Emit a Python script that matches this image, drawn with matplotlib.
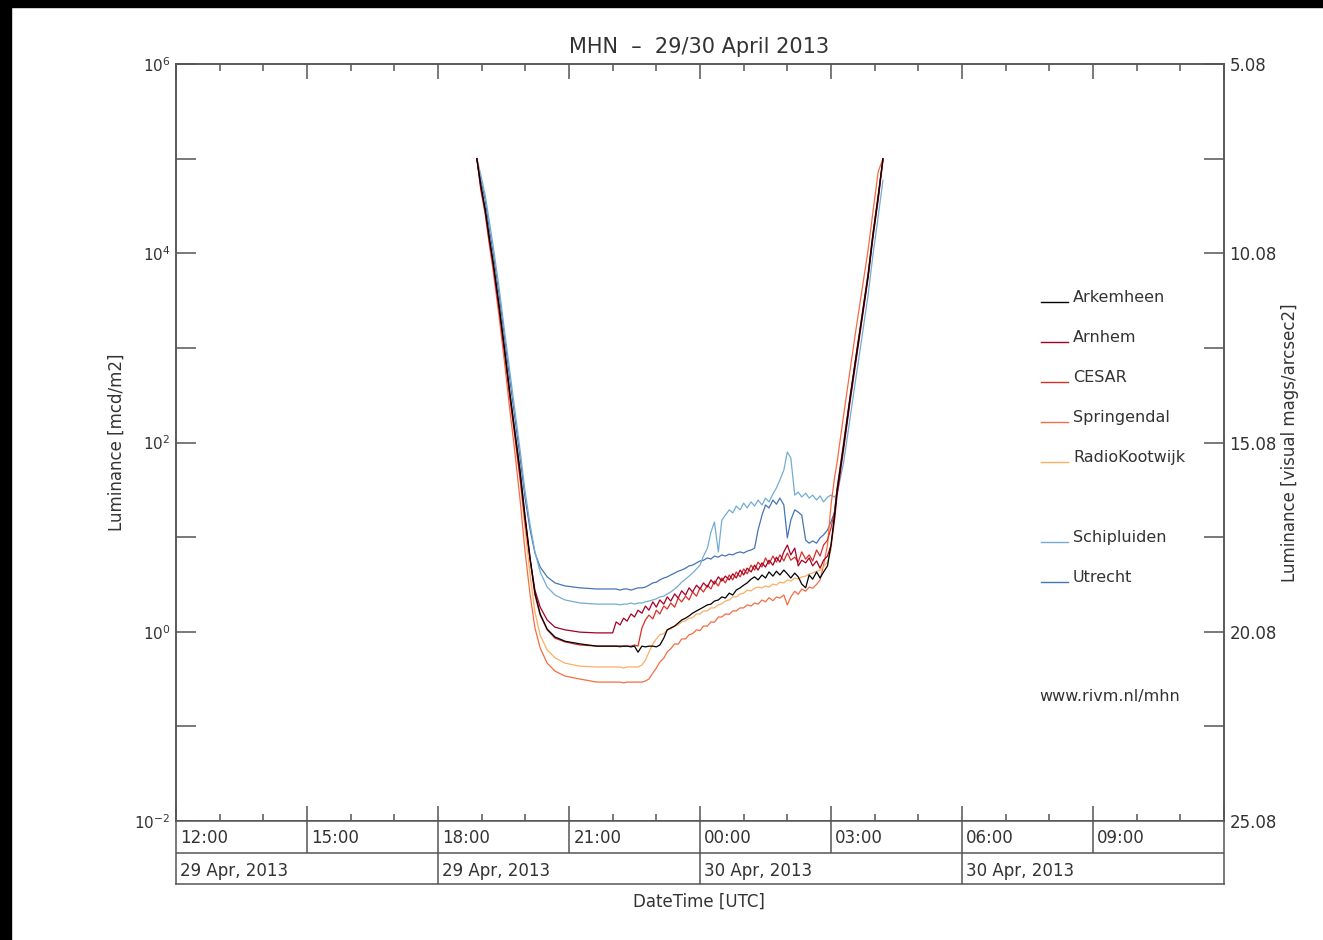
import matplotlib.pyplot as plt
from matplotlib.patches import Rectangle
from matplotlib.ticker import MultipleLocator, NullLocator

# --- data ---------------------------------------------------------------
# time in hours UTC counted from 29 Apr 00:00 (24.00 = 00:00 on 30 Apr)
hours = [18.89, 18.98, 19.08, 19.17, 19.26, 19.40, 19.53, 19.64, 19.76, 19.88,
         19.99, 20.11, 20.22, 20.34, 20.50, 20.68, 20.91, 21.25, 21.64,
         22.00, 22.08, 22.17, 22.25, 22.33, 22.42, 22.50, 22.58, 22.67, 22.75, 22.83, 22.92,
         23.00, 23.08, 23.17, 23.25, 23.33, 23.42, 23.50, 23.58, 23.67, 23.75, 23.83, 23.92,
         24.00, 24.08, 24.17, 24.25, 24.33, 24.42, 24.50, 24.58, 24.67, 24.75, 24.83, 24.92,
         25.00, 25.08, 25.17, 25.25, 25.33, 25.42, 25.50, 25.58, 25.67, 25.75, 25.83, 25.92,
         26.00, 26.08, 26.17, 26.25, 26.33, 26.42, 26.50, 26.58, 26.67, 26.75, 26.83, 26.92,
         27.00,
         27.08, 27.14, 27.29, 27.43, 27.57, 27.71, 27.85, 27.96, 28.08, 28.19]

# sky brightness in visual mags/arcsec2 (right-hand axis)
utrecht = [7.58, 8.15, 8.67, 9.41, 10.05, 11.18, 12.37, 13.38, 14.43, 15.49,
           16.52, 17.39, 18.00, 18.37, 18.63, 18.79, 18.87, 18.92, 18.95,
           18.95, 18.95, 18.98, 18.95, 18.95, 18.98, 18.95, 18.92, 18.92,
           18.90, 18.85, 18.79, 18.77, 18.71, 18.66, 18.63, 18.58, 18.53, 18.48, 18.45, 18.40,
           18.34, 18.32, 18.26, 18.21,
           18.19, 18.13, 18.16, 18.08, 18.11, 18.05, 18.08, 18.03, 18.05, 18.00, 17.97, 18.00,
           17.95, 17.92, 17.87,
           17.39, 17.00, 16.73, 16.81, 16.60, 16.71, 16.55, 16.73, 17.60, 17.13, 16.86, 16.92,
           17.00, 17.66, 17.74, 17.68, 17.74, 17.60, 17.52, 17.39, 17.18,
           16.92, 16.34, 15.15, 13.96, 12.85, 11.76, 10.66, 9.60, 8.59, 7.58]
schipluiden = [7.58, 8.01, 8.54, 9.20, 9.86, 11.00, 12.19, 13.16, 14.22, 15.28,
               16.34, 17.26, 17.97, 18.50, 18.90, 19.11, 19.24, 19.32, 19.35,
               19.35, 19.35, 19.37, 19.35, 19.35, 19.32, 19.35, 19.32, 19.32,
               19.29, 19.27, 19.24, 19.21, 19.16, 19.14, 19.08, 19.03, 18.95, 18.87, 18.77, 18.69,
               18.61, 18.53, 18.42, 18.32,
               18.08, 17.87, 17.45, 17.18, 17.97, 17.13, 17.00, 16.86, 16.94, 16.76, 16.86, 16.68,
               16.81, 16.65, 16.76,
               16.60, 16.73, 16.55, 16.65, 16.44, 16.28, 16.07, 15.81, 15.33, 15.49, 16.47, 16.39,
               16.52, 16.42, 16.55, 16.47, 16.60, 16.49, 16.65, 16.52, 16.47,
               16.52, 16.44, 15.60, 14.49, 13.38, 12.29, 11.18, 10.13, 9.12, 8.15]
arnhem = [7.58, 8.36, 8.99, 9.73, 10.39, 11.58, 12.77, 13.83, 14.91, 16.02,
          17.13, 18.19, 18.98, 19.43, 19.77, 19.96, 20.03, 20.09, 20.11,
          20.11, 19.82, 19.90, 19.72, 19.80, 19.61, 19.69, 19.51, 19.59,
          19.40, 19.51, 19.29, 19.43, 19.24, 19.35, 19.16, 19.27, 19.08, 19.19, 19.00, 19.11,
          18.92, 19.03, 18.85, 18.95,
          18.79, 18.90, 18.71, 18.82, 18.63, 18.74, 18.61, 18.71, 18.55, 18.66, 18.45, 18.58,
          18.40, 18.50, 18.32,
          18.45, 18.26, 18.37, 18.19, 18.32, 18.11, 18.24, 17.97, 17.79, 18.05, 17.87, 18.34,
          18.19, 18.26, 18.13, 18.34, 18.21, 18.40, 18.19, 18.08, 17.79,
          17.13, 16.47, 15.25, 14.06, 12.95, 11.84, 10.73, 9.68, 8.67, 7.62]
cesar = [7.58, 8.30, 8.94, 9.65, 10.31, 11.50, 12.69, 13.75, 14.80, 15.86,
         17.00, 18.19, 19.11, 19.64, 20.03, 20.25, 20.35, 20.43, 20.46,
         20.46, 20.46, 20.48, 20.46, 20.46, 20.46, 20.43, 20.46, 19.98,
         19.77, 19.64, 19.74, 19.51, 19.61, 19.40, 19.48, 19.32, 19.43, 19.19, 19.29, 19.14,
         19.24, 19.03, 19.14, 18.92,
         19.03, 18.85, 18.95, 18.74, 18.87, 18.66, 18.79, 18.58, 18.71, 18.50, 18.63, 18.42,
         18.55, 18.32, 18.45,
         18.24, 18.37, 18.13, 18.29, 18.08, 18.24, 18.05, 18.21, 18.00, 18.19, 18.11, 18.24,
         17.97, 18.16, 18.05, 18.21, 17.92, 18.08, 17.79, 17.66, 17.34,
         16.92, 16.28, 15.07, 13.91, 12.80, 11.71, 10.60, 9.55, 8.54, 7.58]
arkemheen = [7.58, 8.28, 8.91, 9.63, 10.29, 11.47, 12.66, 13.72, 14.78, 15.83,
             17.00, 18.13, 19.06, 19.61, 20.01, 20.22, 20.33, 20.40, 20.46,
             20.46, 20.46, 20.46, 20.46, 20.46, 20.48, 20.46, 20.62, 20.46, 20.48, 20.46, 20.46,
             20.48, 20.43,
             20.25, 20.03, 19.98, 19.93, 19.85, 19.77, 19.72, 19.66, 19.59, 19.53, 19.48,
             19.43, 19.37, 19.35, 19.27, 19.24, 19.16, 19.19, 19.06, 19.11, 18.98, 18.92, 18.85,
             18.79, 18.69, 18.63,
             18.71, 18.58, 18.66, 18.50, 18.61, 18.48, 18.58, 18.45, 18.55, 18.66, 18.53, 18.63,
             18.82, 18.92, 18.58, 18.69, 18.50, 18.66, 18.50, 18.34, 17.79,
             17.00, 16.34, 15.15, 13.96, 12.85, 11.76, 10.66, 9.60, 8.59, 7.58]
radiokootwijk = [7.58, 8.30, 8.94, 9.65, 10.34, 11.53, 12.74, 13.83, 14.91, 16.07,
                 17.34, 18.58, 19.56, 20.17, 20.56, 20.77, 20.91, 20.99, 21.01,
                 21.01, 21.01, 21.01, 21.04, 21.01, 21.01, 21.01, 21.01, 20.96,
                 20.83, 20.62, 20.40, 20.27, 20.16, 20.13, 20.03, 20.01, 19.93, 19.90, 19.82, 19.79,
                 19.72, 19.71, 19.61, 19.61,
                 19.53, 19.53, 19.45, 19.45, 19.37, 19.34, 19.27, 19.24, 19.16, 19.16, 19.08, 19.06,
                 18.98, 19.00, 18.93,
                 18.90, 18.92, 18.87, 18.90, 18.82, 18.85, 18.77, 18.79, 18.71, 18.74, 18.66, 18.69,
                 18.63, 18.61, 18.55, 18.53, 18.48, 18.45, 18.37, 18.24, 17.92,
                 17.08, 16.39, 15.20, 14.01, 12.90, 11.82, 10.71, 9.65, 8.65, 7.62]
springendal = [7.58, 8.41, 9.04, 9.81, 10.52, 11.76, 13.03, 14.17, 15.33, 16.60,
               17.92, 19.11, 19.98, 20.51, 20.91, 21.12, 21.25, 21.33, 21.41,
               21.41, 21.41, 21.41, 21.43, 21.41, 21.41, 21.41, 21.41, 21.41, 21.38,
               21.33, 21.17, 21.04, 20.88, 20.78, 20.61, 20.53, 20.40, 20.41, 20.27, 20.27, 20.16,
               20.13, 20.03, 20.05,
               19.93, 19.93, 19.82, 19.83, 19.69, 19.69, 19.61, 19.62, 19.53, 19.53, 19.45, 19.45,
               19.37, 19.40, 19.32,
               19.35, 19.24, 19.29, 19.18, 19.26, 19.16, 19.19, 19.11, 19.37, 19.16, 19.01, 19.09,
               18.95, 19.01, 18.90, 18.93, 18.83, 18.71, 18.32, 17.79, 16.73,
               16.02, 15.60, 14.35, 13.22, 12.11, 11.05, 9.99, 8.99, 7.93, 7.58]

stations = ['Arkemheen', 'Arnhem', 'CESAR', 'Springendal', 'RadioKootwijk', 'Schipluiden', 'Utrecht']
series = [arkemheen, arnhem, cesar, springendal, radiokootwijk, schipluiden, utrecht]
colors = ['#000000', '#a50026', '#d73027', '#f46d43', '#fdae61', '#74add1', '#4575b4']
legend_rows = [0, 1, 2, 3, 4, 6, 7]   # blank row between the two groups

time_labels = ['12:00', '15:00', '18:00', '21:00', '00:00', '03:00', '06:00', '09:00']
time_pos = [12, 15, 18, 21, 24, 27, 30, 33]
date_labels = ['29 Apr, 2013', '29 Apr, 2013', '30 Apr, 2013', '30 Apr, 2013']
date_pos = [12, 18, 24, 30]

decades = [1e-2, 1e-1, 1e0, 1e1, 1e2, 1e3, 1e4, 1e5, 1e6]
left_labels = ['$10^{-2}$', '', '$10^{0}$', '', '$10^{2}$', '', '$10^{4}$', '', '$10^{6}$']
mag_ticks = [25.08, 22.58, 20.08, 17.58, 15.08, 12.58, 10.08, 7.58, 5.08]
right_labels = ['25.08', '', '20.08', '', '15.08', '', '10.08', '', '5.08']

TXT = '#333333'
EDGE = '#555555'
W, H = 1323, 940


def box(x0, y0, x1, y1):
    return [x0 / W, 1 - y1 / H, (x1 - x0) / W, (y1 - y0) / H]


def style_spines(a):
    for s in a.spines.values():
        s.set_color(EDGE)
        s.set_linewidth(1.1)


fig = plt.figure(figsize=(W / 100, H / 100), dpi=100)

# left axis: luminance (log)
ax = fig.add_axes(box(176, 64, 1224, 821))
ax.set_yscale('log')
ax.set_ylim(1e-2, 1e6)
ax.set_xlim(12, 36)
ax.set_yticks(decades)
ax.set_yticklabels(left_labels)
ax.yaxis.set_minor_locator(NullLocator())
ax.xaxis.set_major_locator(MultipleLocator(3))
ax.xaxis.set_minor_locator(MultipleLocator(1))
ax.tick_params(axis='x', which='both', direction='in', top=True, bottom=True,
               labelbottom=False, color=EDGE, width=1.1)
ax.tick_params(axis='x', which='major', length=11)
ax.tick_params(axis='x', which='minor', length=5)
ax.tick_params(axis='y', which='major', direction='in', length=14.4, width=1.1,
               right=False, color=EDGE, labelsize=11, labelcolor=TXT, pad=4)
style_spines(ax)
ax.set_ylabel('Luminance [mcd/m2]', fontsize=12, color=TXT, labelpad=6)

# right axis: sky brightness in mags (linear, inverted) - curves live here
ax2 = ax.twinx()
ax2.set_ylim(25.08, 5.08)
ax2.set_yticks(mag_ticks)
ax2.set_yticklabels(right_labels)
ax2.yaxis.set_minor_locator(NullLocator())
ax2.tick_params(axis='y', direction='in', length=14.4, width=1.1, color=EDGE,
                labelsize=12, labelcolor=TXT, pad=4)
style_spines(ax2)
ax2.set_ylabel('Luminance [visual mags/arcsec2]', fontsize=12, color=TXT, labelpad=3)

order = [6, 5, 3, 4, 2, 1, 0]
for i in order:
    ax2.plot(hours, series[i], color=colors[i], lw=0.9)

# hand-made legend
for k, name in enumerate(stations):
    yy = 0.691 - legend_rows[k] * 0.0528
    ax2.plot([0.825, 0.851], [yy - 0.006, yy - 0.006], transform=ax2.transAxes,
             color=colors[k], lw=1.0, clip_on=False)
    ax2.text(0.856, yy, name, transform=ax2.transAxes, fontsize=11.5, color=TXT,
             va='center', ha='left')
ax2.text(0.824, 0.165, 'www.rivm.nl/mhn', transform=ax2.transAxes, fontsize=11.5,
         color=TXT, va='center', ha='left')

# time / date table below the plot
bx = fig.add_axes(box(176, 821, 1224, 884))
bx.set_xlim(12, 36)
bx.set_ylim(0, 2)
bx.set_xticks([])
bx.set_yticks([])
style_spines(bx)
bx.axhline(1, color=EDGE, lw=1.1)
bx.vlines(time_pos[1:], 1, 2, color=EDGE, lw=1.1)
bx.vlines(date_pos[1:], 0, 1, color=EDGE, lw=1.1)
for p, lab in zip(time_pos, time_labels):
    bx.text(p + 0.1, 1.45, lab, fontsize=12, color=TXT, va='center', ha='left')
for p, lab in zip(date_pos, date_labels):
    bx.text(p + 0.1, 0.42, lab, fontsize=12, color=TXT, va='center', ha='left')

fig.text(699 / W, 1 - 47 / H, 'MHN  \u2013  29/30 April 2013', fontsize=15, color=TXT,
         ha='center', va='center')
fig.text(699 / W, 1 - 902 / H, 'DateTime [UTC]', fontsize=12, color=TXT,
         ha='center', va='center')

# black strips at the top and left edge of the original screenshot
fig.patches.append(Rectangle((0, 1 - 7 / H), 1, 7 / H, transform=fig.transFigure,
                             color='black', zorder=10))
fig.patches.append(Rectangle((0, 0), 11 / W, 1, transform=fig.transFigure,
                             color='black', zorder=10))

fig.savefig('out.png', dpi=100)
